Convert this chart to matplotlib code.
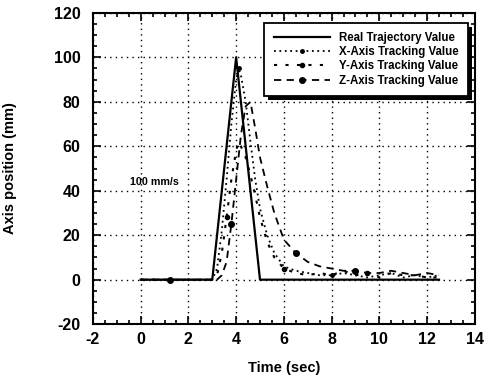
import matplotlib
matplotlib.use("Agg")
import matplotlib.pyplot as plt
from matplotlib.ticker import MultipleLocator
from matplotlib.patches import Rectangle
from matplotlib.transforms import IdentityTransform

plt.rcParams['font.family'] = ['Liberation Sans', 'DejaVu Sans']
plt.rcParams['font.weight'] = 'bold'
plt.rcParams['axes.unicode_minus'] = False

# Data
t_real = [0, 3.0, 4.0, 5.0, 12.5]
y_real = [0, 0, 100, 0, 0]

t_track = [0, 1.25, 3.0, 3.2, 3.4, 3.6, 3.8, 4.0, 4.1, 4.2, 4.4, 4.6, 4.8, 5.0,
           5.3, 5.6, 6.0, 6.5, 7.0, 7.5, 8.0, 8.5, 9.0, 9.5, 10.0, 10.5, 11.0,
           11.5, 12.0, 12.5]
y_x = [0, 0, 0, 5, 22, 45, 70, 90, 95, 92, 80, 62, 45, 32, 20, 12, 6, 4, 3, 2,
       2, 3, 2, 1, 2, 3, 1, 2, 1, 2]
y_y = [0, 0, 0, 2, 12, 28, 45, 58, 62, 60, 55, 47, 38, 28, 17, 10, 5, 3, 2, 3,
       2, 4, 2, 3, 1, 3, 2, 2, 1, 1]
y_z = [0, 0, 0, 0, 2, 8, 25, 45, 55, 65, 78, 80, 68, 55, 42, 30, 18, 12, 8, 6,
       5, 4, 4, 3, 3, 4, 3, 2, 3, 2]

labels = ["Real Trajectory Value", "X-Axis Tracking Value",
          "Y-Axis Tracking Value", "Z-Axis Tracking Value"]

fig = plt.figure(figsize=(4.84, 3.80), dpi=100)
ax = fig.add_axes([0.192, 0.147, 0.789, 0.819])

ax.plot(t_real, y_real, color='black', lw=1.6, label=labels[0])
ax.plot(t_track, y_x, color='black', lw=1.3, ls=(0, (1, 2)), marker='o', ms=2.5,
        markevery=[8, 20], label=labels[1])
ax.plot(t_track, y_y, color='black', lw=1.5, ls=(0, (1.5, 4)), marker='o', ms=3,
        markevery=[5, 16, 23], label=labels[2])
ax.plot(t_track, y_z, color='black', lw=1.3, ls=(0, (4, 3)), marker='o', ms=4,
        markevery=[1, 6, 17, 22], label=labels[3])

ax.set_xlim(-2, 14)
ax.set_ylim(-20, 120)
ax.xaxis.set_major_locator(MultipleLocator(2))
ax.xaxis.set_minor_locator(MultipleLocator(0.5))
ax.yaxis.set_major_locator(MultipleLocator(20))
ax.yaxis.set_minor_locator(MultipleLocator(5))
ax.tick_params(which='both', direction='in', top=True, right=True, width=1.2)
ax.tick_params(which='major', length=6, labelsize=11.5)
ax.tick_params(axis='x', which='major', pad=6)
ax.tick_params(axis='y', which='major', pad=9)
ax.tick_params(which='minor', length=3)
for lab in ax.get_xticklabels() + ax.get_yticklabels():
    lab.set_fontweight('bold')
for s in ax.spines.values():
    s.set_linewidth(1.5)

ax.grid(True, which='major', color='black', ls=(0, (1, 3)), lw=1.0)

ax.set_xlabel("Time (sec)", fontsize=10.5, fontweight='bold')
ax.set_ylabel("Axis position (mm)", fontsize=10.5, fontweight='bold')
ax.xaxis.set_label_coords(0.5, -0.119)
ax.yaxis.set_label_coords(-0.2, 0.5)

ax.text(-0.45, 44, "100 mm/s", fontsize=7.7, fontweight='bold', va='center')

leg = ax.legend(loc='upper right', bbox_to_anchor=(0.99, 0.98), numpoints=1,
                fontsize=8.3, frameon=True, fancybox=False, handlelength=4.9,
                borderpad=0.8, labelspacing=0.2, handletextpad=0.75,
                borderaxespad=0.3)
leg.get_frame().set_edgecolor('black')
leg.get_frame().set_linewidth(1.3)
leg.get_frame().set_alpha(1)
leg.set_zorder(10)
for txt in leg.get_texts():
    txt.set_fontweight('bold')

fig.canvas.draw()
bb = leg.get_window_extent()
shadow = Rectangle((bb.x0 + 4, bb.y0 - 4), bb.width, bb.height,
                   transform=IdentityTransform(), facecolor='black',
                   edgecolor='none', zorder=9, clip_on=False)
ax.add_artist(shadow)

fig.savefig("out.png", dpi=100)
